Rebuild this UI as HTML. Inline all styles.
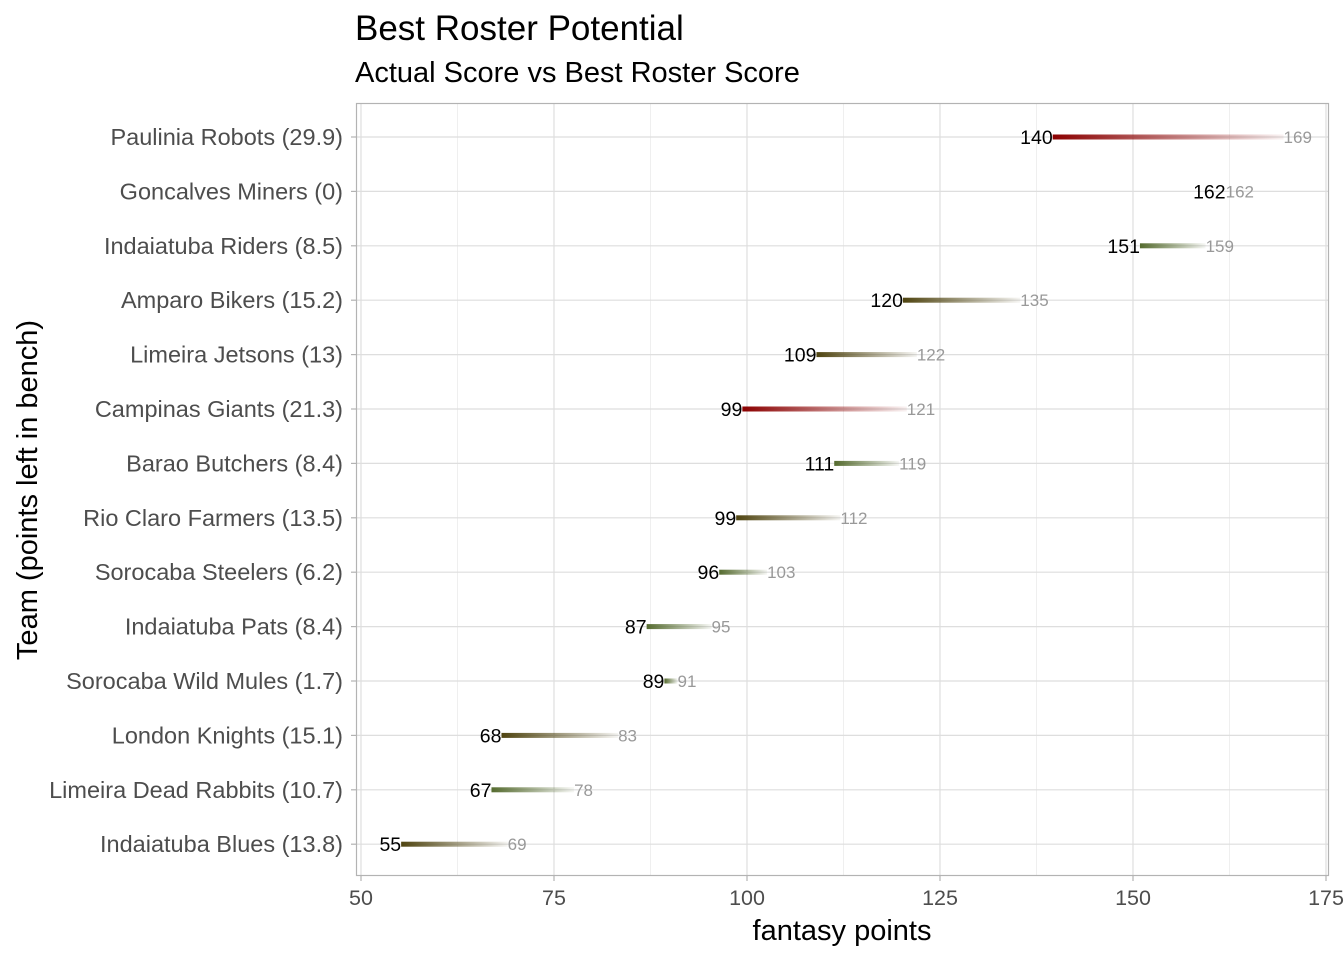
<!DOCTYPE html>
<html><head><meta charset="utf-8"><style>
body{margin:0;background:#fff;}
svg text{font-family:"Liberation Sans",Arial,sans-serif;}
</style></head><body>
<svg id="chart" width="1344" height="960">
<defs id="defs"></defs>
<text x="355" y="40" font-size="35" fill="#000">Best Roster Potential</text>
<text x="355" y="82" font-size="29" fill="#000">Actual Score vs Best Roster Score</text>
<g id="grid"></g><g id="bars"></g><g id="labels"></g><g id="axes"></g>
<rect x="356.5" y="103.5" width="972" height="772" fill="none" stroke="#b3b3b3" stroke-width="1.2"/>
<text x="842" y="940" font-size="29" text-anchor="middle" fill="#000">fantasy points</text>
<text transform="translate(37,490) rotate(-90)" font-size="29" text-anchor="middle" fill="#000">Team (points left in bench)</text>
</svg>
<script>
const teams=["Paulinia Robots (29.9)","Goncalves Miners (0)","Indaiatuba Riders (8.5)","Amparo Bikers (15.2)","Limeira Jetsons (13)","Campinas Giants (21.3)","Barao Butchers (8.4)","Rio Claro Farmers (13.5)","Sorocaba Steelers (6.2)","Indaiatuba Pats (8.4)","Sorocaba Wild Mules (1.7)","London Knights (15.1)","Limeira Dead Rabbits (10.7)","Indaiatuba Blues (13.8)"];
const actual=[139.6,162,150.9,120.2,109,99.4,111.3,98.6,96.4,87,89.3,68.2,66.9,55.2];
const best=[169.5,162,159.4,135.4,122,120.7,119.7,112.1,102.6,95.4,91,83.3,77.6,69];
const actualLabels=["140","162","151","120","109","99","111","99","96","87","89","68","67","55"];
const bestLabels=["169","162","159","135","122","121","119","112","103","95","91","83","78","69"];
const xTicks=[50,75,100,125,150,175];
const NS="http://www.w3.org/2000/svg";
const X=v=>361+(v-50)*7.72;
const Y=i=>137+i*54.4;
function mk(tag,attrs,parent){const e=document.createElementNS(NS,tag);for(const k in attrs)e.setAttribute(k,attrs[k]);document.getElementById(parent).appendChild(e);return e;}
for(let i=0;i<xTicks.length-1;i++){const m=(xTicks[i]+xTicks[i+1])/2;const l=mk('line',{x1:X(m),x2:X(m),y1:104,y2:875,stroke:'#ebebeb','stroke-width':0.8},'grid');

}
xTicks.forEach(t=>{const l=mk('line',{x1:X(t),x2:X(t),y1:104,y2:875,stroke:'#dedede','stroke-width':1.2},'grid');


const tk=mk('line',{x1:X(t),x2:X(t),y1:876,y2:881,stroke:'#b3b3b3','stroke-width':1.2},'axes');


const tx=mk('text',{x:X(t),y:905,'font-size':21.5,'text-anchor':'middle',fill:'#4d4d4d'},'axes');tx.textContent=t;

});
teams.forEach((n,i)=>{const y=Y(i);
const g=mk('line',{x1:357,x2:1328,y1:y,y2:y,stroke:'#dedede','stroke-width':1.2},'grid');


const tk=mk('line',{x1:351,x2:356,y1:y,y2:y,stroke:'#b3b3b3','stroke-width':1.2},'axes');


const tl=mk('text',{x:343,y:y+8,'font-size':23.5,'text-anchor':'end',fill:'#4d4d4d'},'axes');tl.textContent=n;


const bench=best[i]-actual[i];
const col=bench>20?'#8b0000':(bench>=13?'#4f4410':'#556b2f');
if(bench>0){const gr=mk('linearGradient',{id:'g'+i,x1:0,x2:1,y1:0,y2:0},'defs');
const s1=document.createElementNS(NS,'stop');s1.setAttribute('offset','0');s1.setAttribute('stop-color',col);gr.appendChild(s1);
const s2=document.createElementNS(NS,'stop');s2.setAttribute('offset','1');s2.setAttribute('stop-color',col);s2.setAttribute('stop-opacity','0.05');gr.appendChild(s2);
const b=mk('rect',{x:X(actual[i]),y:y-2.5,width:X(best[i])-X(actual[i]),height:5,fill:'url(#g'+i+')'},'bars');

}
const a=mk('text',{x:X(actual[i]),y:y+7,'font-size':19.5,'text-anchor':'end',fill:'#000'},'labels');a.textContent=actualLabels[i];


const bl=mk('text',{x:X(best[i]),y:y+6,'font-size':17,fill:'#999'},'labels');bl.textContent=bestLabels[i];


});
</script>
</body></html>
